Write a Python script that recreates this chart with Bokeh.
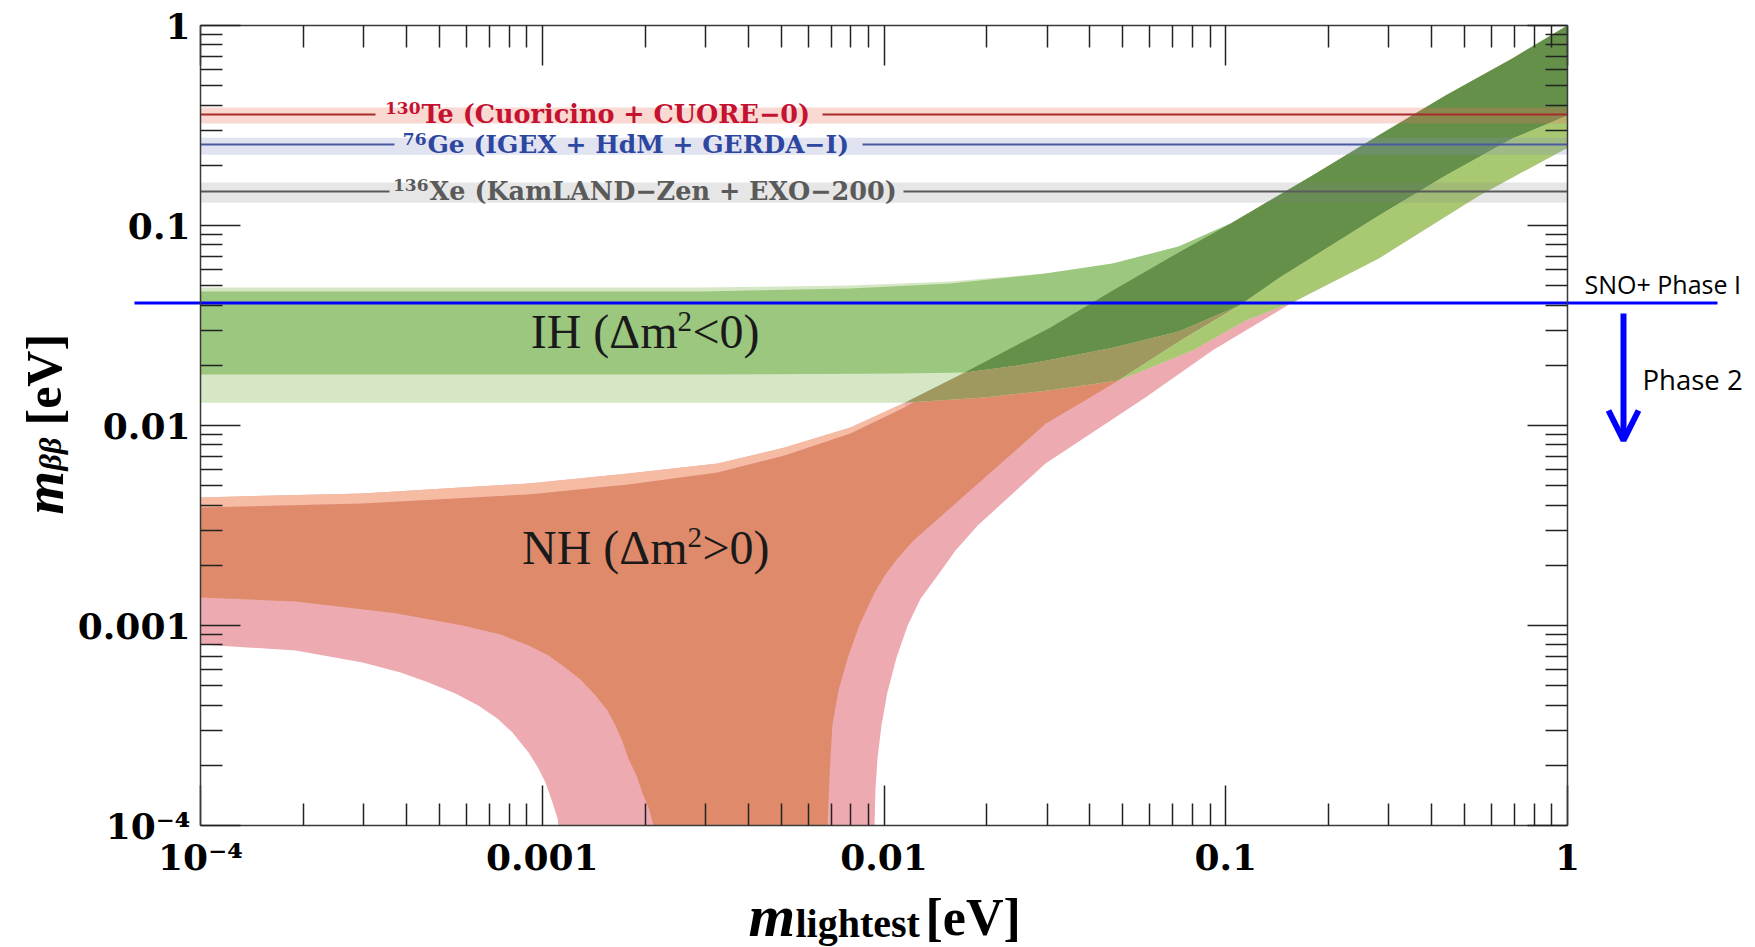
import numpy as np
from bokeh.plotting import figure
from bokeh.models import (FixedTicker, LogAxis, Label, Arrow, OpenHead,
                          ColumnDataSource, Range1d)
from bokeh.embed import file_html
from bokeh.resources import INLINE

# ------------------------------------------------------------------ data
tick_values = [1e-4, 1e-3, 1e-2, 1e-1, 1.0]
tick_labels = ["10⁻⁴", "0.001", "0.01", "0.1", "1"]

# IH (inverted hierarchy) upper edge
ih_top_m   = [1e-4, 2.90e-3, 7.98e-3, 1.567e-2, 2.97e-2, 4.67e-2, 7.28e-2, 0.1047, 0.1795, 0.280, 0.440, 0.690, 1.0]
ih_top_mbb = [0.0490, 0.0490, 0.0501, 0.0525, 0.0575, 0.0646, 0.0785, 0.1035, 0.178, 0.282, 0.447, 0.684, 1.0]
# IH best-fit upper edge (flat part)
ih_bf_top_m   = [1e-4, 2.90e-3, 7.98e-3, 1.567e-2]
ih_bf_top_mbb = [0.0468, 0.0468, 0.0484, 0.0513]
# IH best-fit lower edge
ih_bf_low_m   = [1e-4, 2.90e-3, 1.116e-2, 1.722e-2, 2.46e-2, 2.97e-2, 4.67e-2, 7.28e-2, 0.1096, 0.1425, 0.280, 0.440, 0.690, 1.0]
ih_bf_low_mbb = [0.0180, 0.0180, 0.0182, 0.0184, 0.01995, 0.0211, 0.0245, 0.0295, 0.0398, 0.0543, 0.112, 0.178, 0.272, 0.355]
# IH 3-sigma lower edge
ih_low_m   = [1e-4, 2.90e-3, 1.148e-2, 1.967e-2, 3.07e-2, 4.85e-2, 8.00e-2, 0.1143, 0.1567, 0.280, 0.550, 1.0]
ih_low_mbb = [0.0130, 0.0130, 0.0130, 0.0138, 0.0150, 0.0168, 0.0237, 0.0335, 0.0412, 0.0684, 0.141, 0.245]

# NH (normal hierarchy) 3-sigma upper edge
nh_top_m   = [1e-4, 2.98e-4, 9.12e-4, 1.786e-3, 3.26e-3, 5.12e-3, 7.98e-3, 1.148e-2, 1.722e-2, 3.07e-2, 4.67e-2, 7.28e-2, 0.1047]
nh_top_mbb = [4.37e-3, 4.57e-3, 5.13e-3, 5.75e-3, 6.46e-3, 7.76e-3, 9.77e-3, 1.30e-2, 1.84e-2, 3.09e-2, 4.73e-2, 7.33e-2, 0.1035]
# NH best-fit upper edge
nh_bf_top_m   = [1e-4, 2.98e-4, 9.12e-4, 1.786e-3, 3.26e-3, 5.12e-3, 7.98e-3, 1.148e-2]
nh_bf_top_mbb = [3.89e-3, 4.07e-3, 4.52e-3, 5.07e-3, 5.82e-3, 7.08e-3, 9.12e-3, 1.23e-2]
# NH best-fit lower edge (left and right branch of the funnel)
nh_bf_low_left_m   = [1e-4, 1.90e-4, 3.72e-4, 5.85e-4, 7.55e-4, 9.12e-4, 1.043e-3, 1.146e-3, 1.294e-3, 1.432e-3,
                      1.552e-3, 1.637e-3, 1.717e-3, 1.786e-3, 1.887e-3, 1.963e-3, 2.050e-3, 2.116e-3]
nh_bf_low_left_mbb = [1.38e-3, 1.32e-3, 1.15e-3, 1.00e-3, 9.02e-4, 7.94e-4, 7.08e-4, 6.31e-4, 5.37e-4, 4.47e-4,
                      3.76e-4, 3.16e-4, 2.63e-4, 2.16e-4, 1.78e-4, 1.46e-4, 1.22e-4, 1.0e-4]
nh_bf_low_right_m   = [6.84e-3, 6.93e-3, 7.06e-3, 7.36e-3, 7.82e-3, 8.48e-3, 9.38e-3, 1.010e-2, 1.096e-2, 1.212e-2,
                       1.368e-2, 2.97e-2, 3.86e-2, 4.85e-2, 7.38e-2, 0.1096]
nh_bf_low_right_mbb = [1.0e-4, 1.78e-4, 3.16e-4, 4.73e-4, 6.84e-4, 1.01e-3, 1.46e-3, 1.80e-3, 2.16e-3, 2.63e-3,
                       3.16e-3, 1.02e-2, 1.33e-2, 1.68e-2, 2.66e-2, 3.98e-2]
# NH 3-sigma lower edge
nh_low_left_m   = [1e-4, 1.90e-4, 2.98e-4, 3.85e-4, 4.65e-4, 5.57e-4, 6.50e-4, 7.39e-4, 8.18e-4, 9.12e-4,
                   9.75e-4, 1.022e-3, 1.072e-3, 1.109e-3, 1.115e-3]
nh_low_left_mbb = [8.04e-4, 7.50e-4, 6.53e-4, 5.82e-4, 5.19e-4, 4.57e-4, 3.98e-4, 3.43e-4, 2.92e-4, 2.32e-4,
                   1.93e-4, 1.64e-4, 1.30e-4, 1.08e-4, 1.0e-4]
nh_low_right_m   = [9.38e-3, 9.44e-3, 9.57e-3, 9.83e-3, 1.023e-2, 1.088e-2, 1.173e-2, 1.279e-2, 1.435e-2, 1.619e-2,
                    1.880e-2, 2.97e-2, 5.82e-2, 9.14e-2, 0.1567]
nh_low_right_mbb = [1.0e-4, 1.50e-4, 2.16e-4, 3.16e-4, 4.62e-4, 6.92e-4, 1.00e-3, 1.36e-3, 1.78e-3, 2.37e-3,
                    3.16e-3, 6.46e-3, 1.38e-2, 2.37e-2, 4.12e-2]

# experimental limits
exp_isotopes  = ["130", "76", "136"]
exp_labels    = ["Te (Cuoricino + CUORE−0)", "Ge (IGEX + HdM + GERDA−I)", "Xe (KamLAND−Zen + EXO−200)"]
exp_limit     = [0.359, 0.254, 0.148]
exp_band_low  = [0.324, 0.226, 0.130]
exp_band_high = [0.389, 0.275, 0.164]

sno_phase1 = 0.041

# ------------------------------------------------------------------ styles / layout
C_PINK, C_PEACH, C_ORANGE = "#eeaab1", "#f5bca3", "#df8b6b"
C_LGREEN, C_MGREEN, C_DGREEN = "#d6e7c5", "#9bc77f", "#64904a"
C_OLIVE, C_YGREEN = "#9f995f", "#a9c872"
exp_band_color = ["#e7735a", "#878fc3", "#828282"]
exp_band_alpha = [0.27, 0.25, 0.2]
exp_line_color = ["#a82a2a", "#4a5aa0", "#5a5a5a"]
exp_text_color = ["#c41230", "#2d46a0", "#5a5a5a"]
# pixel layout of the labels / line gaps
exp_gap_start  = [375, 394, 389]
exp_text_start = [421, 427, 429]
exp_gap_end    = [822, 862, 903]
exp_font_size  = ["25.5px", "25px", "25.5px"]

W, H = 1755, 947
FL, FT, FW, FH = 200, 25, 1367, 800   # plot box in canvas pixels


def xd(cx):
    return 10 ** (-4 + 4 * (cx - FL) / FW)


def yd(cy):
    return 10 ** (-4 * (cy - FT) / FH)


def rev(a):
    return list(a)[::-1]


p = figure(width=W, height=H, x_axis_type="log", y_axis_type="log",
           x_range=Range1d(xd(0), xd(W)), y_range=Range1d(yd(H), yd(0)),
           x_axis_location=None, y_axis_location=None,
           output_backend="svg", toolbar_location=None,
           min_border_left=0, min_border_right=0, min_border_top=0, min_border_bottom=0)
p.grid.visible = False
p.outline_line_color = None
p.background_fill_color = "white"
p.border_fill_color = "white"

# ------------------------------------------------------------------ regions
k = nh_bf_low_right_m.index(4.85e-2)
polys = [
    (nh_top_m + ih_top_m[8:] + rev(ih_low_m[9:]) + rev(nh_low_right_m) + rev(nh_low_left_m),
     nh_top_mbb + ih_top_mbb[8:] + rev(ih_low_mbb[9:]) + rev(nh_low_right_mbb) + rev(nh_low_left_mbb), C_PINK),
    (nh_top_m[:8] + rev(nh_bf_top_m), nh_top_mbb[:8] + rev(nh_bf_top_mbb), C_PEACH),
    (nh_bf_top_m + nh_top_m[8:] + ih_top_m[8:] + rev(ih_bf_low_m[9:]) + rev(nh_bf_low_right_m) + rev(nh_bf_low_left_m),
     nh_bf_top_mbb + nh_top_mbb[8:] + ih_top_mbb[8:] + rev(ih_bf_low_mbb[9:]) + rev(nh_bf_low_right_mbb) + rev(nh_bf_low_left_mbb), C_ORANGE),
    (ih_top_m + rev(ih_low_m), ih_top_mbb + rev(ih_low_mbb), C_LGREEN),
    (ih_bf_top_m + ih_top_m[4:] + rev(ih_bf_low_m), ih_bf_top_mbb + ih_top_mbb[4:] + rev(ih_bf_low_mbb), C_MGREEN),
    (nh_top_m[8:] + ih_top_m[8:] + rev(ih_bf_low_m[3:]), nh_top_mbb[8:] + ih_top_mbb[8:] + rev(ih_bf_low_mbb[3:]), C_DGREEN),
    (nh_top_m[7:9] + ih_bf_low_m[4:9] + rev(nh_bf_low_right_m[k:]) + rev(ih_low_m[2:6]),
     nh_top_mbb[7:9] + ih_bf_low_mbb[4:9] + rev(nh_bf_low_right_mbb[k:]) + rev(ih_low_mbb[2:6]), C_OLIVE),
    (nh_bf_low_right_m[k:] + ih_bf_low_m[9:] + rev(ih_low_m[5:]),
     nh_bf_low_right_mbb[k:] + ih_bf_low_mbb[9:] + rev(ih_low_mbb[5:]), C_YGREEN),
]
for xs, ys, col in polys:
    p.patch(xs, ys, fill_color=col, line_color=None)

# ------------------------------------------------------------------ experimental bands
band_src = ColumnDataSource(dict(bottom=exp_band_low, top=exp_band_high,
                                 color=exp_band_color, alpha=exp_band_alpha))
p.quad(left=1e-4, right=1.0, bottom="bottom", top="top", fill_color="color",
       fill_alpha="alpha", line_color=None, source=band_src)

seg_src = ColumnDataSource(dict(
    x0=[1e-4] * 3 + [xd(g) for g in exp_gap_end],
    x1=[xd(g) for g in exp_gap_start] + [1.0] * 3,
    y=exp_limit + exp_limit,
    color=exp_line_color + exp_line_color))
p.segment(x0="x0", y0="y", x1="x1", y1="y", line_color="color", line_width=2, source=seg_src)

for i, txt in enumerate(exp_labels):
    p.add_layout(Label(x=xd(exp_text_start[i]), y=exp_limit[i], text=txt,
                       text_align="left", text_baseline="middle",
                       text_font="DejaVu Serif", text_font_style="bold",
                       text_font_size=exp_font_size[i], text_color=exp_text_color[i]))
    p.add_layout(Label(x=xd(exp_text_start[i] - 1), y=exp_limit[i], y_offset=6,
                       text=exp_isotopes[i], text_align="right", text_baseline="middle",
                       text_font="DejaVu Serif", text_font_style="bold",
                       text_font_size="17px", text_color=exp_text_color[i]))

# ------------------------------------------------------------------ region labels  (text, superscript, rest)
region_parts = [("IH (Δm", "2", "<0)", 677, 331), ("NH (Δm", "2", ">0)", 687, 547)]
for head, sup, tail, sx, cy in region_parts:
    p.add_layout(Label(x=xd(sx), y=yd(cy), text=head, text_align="right", text_baseline="middle",
                       text_font="Liberation Serif", text_font_size="48px", text_color="#1a1a1a"))
    p.add_layout(Label(x=xd(sx), y=yd(cy - 10), text=sup, text_align="left", text_baseline="middle",
                       text_font="Liberation Serif", text_font_size="29px", text_color="#1a1a1a"))
    p.add_layout(Label(x=xd(sx + 15), y=yd(cy), text=tail, text_align="left", text_baseline="middle",
                       text_font="Liberation Serif", text_font_size="48px", text_color="#1a1a1a"))

# ------------------------------------------------------------------ SNO+ annotations
p.segment(x0=[xd(134)], y0=[sno_phase1], x1=[xd(1717)], y1=[sno_phase1],
          line_color="#0000ff", line_width=3)
p.add_layout(Arrow(x_start=xd(1623), y_start=yd(313), x_end=xd(1623), y_end=yd(440),
                   end=OpenHead(size=30, line_color="#0000ff", line_width=6),
                   line_color="#0000ff", line_width=6))
p.add_layout(Label(x=xd(1584), y=yd(283), text="SNO+ Phase I", text_align="left",
                   text_baseline="middle", text_font="Open Sans",
                   text_font_size="25px", text_color="black"))
p.add_layout(Label(x=xd(1642), y=yd(379), text="Phase 2", text_align="left",
                   text_baseline="middle", text_font="Open Sans",
                   text_font_size="27.5px", text_color="black"))

# ------------------------------------------------------------------ axes (on the plot box)
minor = [kk * 10.0 ** e for e in range(-4, 0) for kk in range(2, 10)]
overrides = {v: t for v, t in zip(tick_values, tick_labels)}


def make_axis(loc, labels=True):
    ax = LogAxis(fixed_location=loc, bounds=(1e-4, 1.0))
    ax.ticker = FixedTicker(ticks=tick_values, minor_ticks=minor)
    ax.axis_line_color = "#3a3a3a"
    ax.axis_line_width = 1.5
    ax.major_tick_line_color = "#222222"
    ax.major_tick_line_width = 1.5
    ax.minor_tick_line_color = "#222222"
    ax.minor_tick_line_width = 1.5
    ax.major_tick_in = 40
    ax.major_tick_out = 0
    ax.minor_tick_in = 22
    ax.minor_tick_out = 0
    if labels:
        ax.major_label_overrides = overrides
        ax.major_label_text_font = "DejaVu Serif"
        ax.major_label_text_font_style = "bold"
        ax.major_label_text_font_size = "36px"
        ax.major_label_text_color = "black"
        ax.major_label_standoff = 10
    else:
        ax.major_label_text_color = None
        ax.major_label_text_font_size = "1px"
        ax.major_label_standoff = 0
    return ax


p.add_layout(make_axis(1e-4), "below")
p.add_layout(make_axis(1e-4), "left")
p.add_layout(make_axis(1.0, labels=False), "above")
p.add_layout(make_axis(1.0, labels=False), "right")

# axis titles, built from pieces (subscripts)
p.add_layout(Label(x=xd(748), y=yd(915), text="m", text_align="left", text_baseline="alphabetic",
                   text_font="Liberation Serif", text_font_style="bold italic",
                   text_font_size="60px", text_color="black"))
p.add_layout(Label(x=xd(795), y=yd(923), text="lightest", text_align="left", text_baseline="alphabetic",
                   text_font="Liberation Serif", text_font_style="bold",
                   text_font_size="40px", text_color="black"))
p.add_layout(Label(x=xd(925), y=yd(917), text="[eV]", text_align="left", text_baseline="alphabetic",
                   text_font="Liberation Serif", text_font_style="bold",
                   text_font_size="52px", text_color="black"))

p.add_layout(Label(x=xd(43), y=yd(514), text="m", angle=np.pi / 2, text_align="left",
                   text_baseline="alphabetic", text_font="Liberation Serif",
                   text_font_style="bold italic", text_font_size="56px", text_color="black"))
p.add_layout(Label(x=xd(49), y=yd(470), text="ββ", angle=np.pi / 2, text_align="left",
                   text_baseline="alphabetic", text_font="Liberation Serif",
                   text_font_style="bold italic", text_font_size="32px", text_color="black"))
p.add_layout(Label(x=xd(43), y=yd(425), text="[eV]", angle=np.pi / 2, text_align="left",
                   text_baseline="alphabetic", text_font="Liberation Serif",
                   text_font_style="bold", text_font_size="50px", text_color="black"))

open("out.html", "w").write(file_html(p, INLINE))
